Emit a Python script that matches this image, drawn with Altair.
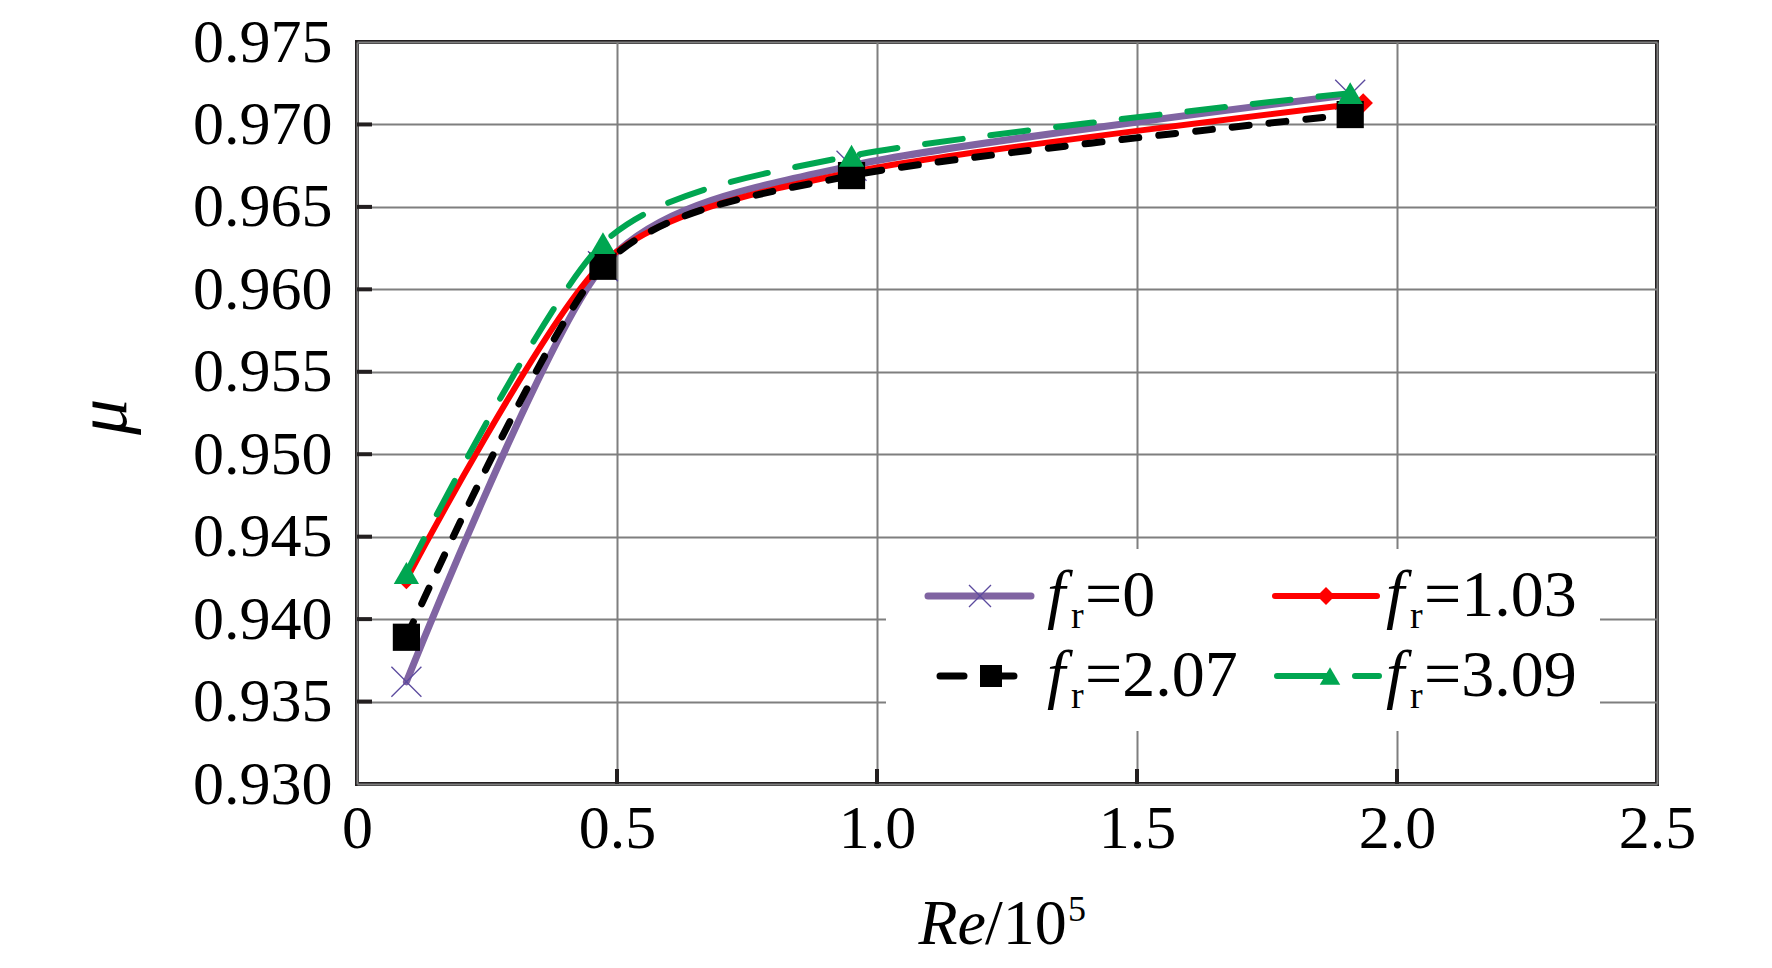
import pandas as pd
import altair as alt

# Re/10^5 at the four measured points (red's last point sits a bit right)
re_x = [0.095, 0.473, 0.951, 1.91]
re_x_red = [0.095, 0.473, 0.951, 1.935]

mu_f0 = [0.9362, 0.9614, 0.9675, 0.9718]
mu_f103 = [0.9424, 0.9616, 0.9671, 0.9713]
mu_f207 = [0.9389, 0.9614, 0.9669, 0.9706]
mu_f309 = [0.9428, 0.9628, 0.9681, 0.9719]

fr_labels = ["0", "1.03", "2.07", "3.09"]
x_ticks = [0, 0.5, 1.0, 1.5, 2.0, 2.5]
y_ticks = [0.930, 0.935, 0.940, 0.945, 0.950, 0.955, 0.960, 0.965, 0.970, 0.975]

W, H = 1300, 742
FONT = "Liberation Serif"
DARK = "#231f20"

xs = alt.Scale(domain=[0, 2.5], nice=False, zero=False)
ys = alt.Scale(domain=[0.930, 0.975], nice=False, zero=False)
x_axis = alt.Axis(values=x_ticks, title=None, labelFlush=False,
                  labelExpr="datum.value == 0 ? '0' : format(datum.value, '.1f')")
y_axis = alt.Axis(values=y_ticks, format=".3f", title=None, labelFlush=False)

xs_list = [re_x, re_x_red, re_x, re_x]
mus = [mu_f0, mu_f103, mu_f207, mu_f309]

# line / marker styles per series
styles = [
    dict(color="#8064a2", width=7, dash=None, shape="M-1,-1L1,1M-1,1L1,-1",
         size=900, filled=False, mcolor="#5b4a9e", lsize=484),
    dict(color="#ff0000", width=6, dash=None, shape="diamond",
         size=380, filled=True, mcolor="#ff0000", lsize=320),
    dict(color="#000000", width=7, dash=[17, 20], shape="square",
         size=740, filled=True, mcolor="#000000", lsize=484),
    dict(color="#00a651", width=6, dash=[38, 28], shape="triangle-up",
         size=640, filled=True, mcolor="#00a651", lsize=420),
]

layers = []

# inside ticks on the left and bottom frame
tick_y = alt.Chart(pd.DataFrame({"v": y_ticks[1:-1]})).mark_rule(
    color=DARK, strokeWidth=4).encode(
    y=alt.Y("v:Q", scale=ys, axis=y_axis),
    x=alt.value(0), x2=alt.value(15))
tick_x = alt.Chart(pd.DataFrame({"v": x_ticks[1:-1]})).mark_rule(
    color=DARK, strokeWidth=4).encode(
    x=alt.X("v:Q", scale=xs, axis=x_axis),
    y=alt.value(H - 15), y2=alt.value(H))
layers += [tick_y, tick_x]

for i in range(4):
    st = styles[i]
    df = pd.DataFrame({"re": xs_list[i], "mu": mus[i]})
    line_kw = dict(color=st["color"], strokeWidth=st["width"],
                   interpolate="cardinal", tension=0.25,
                   strokeCap="round", strokeJoin="round")
    if st["dash"]:
        line_kw["strokeDash"] = st["dash"]
    base = alt.Chart(df).encode(
        x=alt.X("re:Q", scale=xs, axis=x_axis),
        y=alt.Y("mu:Q", scale=ys, axis=y_axis))
    layers.append(base.mark_line(**line_kw))
    if st["filled"]:
        pt = base.mark_point(shape=st["shape"], size=st["size"], filled=True,
                             color=st["mcolor"], opacity=1)
    else:
        pt = base.mark_point(shape=st["shape"], size=st["size"], filled=False,
                             stroke=st["mcolor"], strokeWidth=1.3, opacity=1)
    layers.append(pt)

one = pd.DataFrame({"k": [0]})

# legend box (white, hides the grid behind it)
layers.append(alt.Chart(one).mark_rect(color="white").encode(
    x=alt.value(529), x2=alt.value(1243), y=alt.value(507), y2=alt.value(689)))

# legend samples: (x start, x end, marker x, row y, text x)
leg_pos = [(571, 674, 623, 554, 690), (918, 1020, 969, 554, 1029),
           (583, 662, 634, 634, 690), (920, 1022, 973, 634, 1029)]
for i in range(4):
    st = styles[i]
    x0, x1, mx, ry, tx = leg_pos[i]
    rule_kw = dict(color=st["color"], strokeWidth=st["width"], strokeCap="round")
    if st["dash"]:
        rule_kw["strokeDash"] = [24, 26] if i == 2 else [52, 26]
    layers.append(alt.Chart(one).mark_rule(**rule_kw).encode(
        x=alt.value(x0), x2=alt.value(x1), y=alt.value(ry)))
    if st["filled"]:
        m = alt.Chart(one).mark_point(shape=st["shape"], size=st["lsize"],
                                      filled=True, color=st["mcolor"], opacity=1)
    else:
        m = alt.Chart(one).mark_point(shape=st["shape"], size=st["lsize"],
                                      filled=False, stroke=st["mcolor"],
                                      strokeWidth=1.3, opacity=1)
    layers.append(m.encode(x=alt.value(mx), y=alt.value(ry)))
    base_y = ry + 20
    layers.append(alt.Chart(one).mark_text(
        text="f", font=FONT, fontSize=66, fontStyle="italic", align="left",
        baseline="alphabetic").encode(x=alt.value(tx), y=alt.value(base_y)))
    layers.append(alt.Chart(one).mark_text(
        text="r", font=FONT, fontSize=38, align="left",
        baseline="alphabetic").encode(x=alt.value(tx + 24), y=alt.value(base_y + 12)))
    layers.append(alt.Chart(one).mark_text(
        text="=" + fr_labels[i], font=FONT, fontSize=66, align="left",
        baseline="alphabetic").encode(x=alt.value(tx + 38), y=alt.value(base_y)))

# axis titles as text so the italic parts can be mixed
layers.append(alt.Chart(one).mark_text(
    text="Re", font=FONT, fontSize=64, fontStyle="italic", align="right",
    baseline="alphabetic").encode(x=alt.value(629), y=alt.value(902)))
layers.append(alt.Chart(one).mark_text(
    text="/10", font=FONT, fontSize=64, align="left",
    baseline="alphabetic").encode(x=alt.value(628), y=alt.value(902)))
layers.append(alt.Chart(one).mark_text(
    text="5", font=FONT, fontSize=36, align="left",
    baseline="alphabetic").encode(x=alt.value(711), y=alt.value(879)))
layers.append(alt.Chart(one).mark_text(
    text="μ", font=FONT, fontSize=72, fontStyle="italic", align="center",
    baseline="middle", angle=270).encode(x=alt.value(-253), y=alt.value(375)))

chart = alt.layer(*layers).properties(
    width=W, height=H, autosize="none",
    padding={"left": 349, "top": 34, "right": 100, "bottom": 176},
).configure_view(
    stroke=DARK, strokeWidth=4
).configure_axis(
    ticks=False, domain=False, grid=True, gridColor="#7f7f7f", gridWidth=2,
    labelFont=FONT, labelFontSize=62, labelColor="#000000"
).configure_axisY(
    labelPadding=25
).configure_axisX(
    labelPadding=14
)

chart.save("out.html", embed_options={"renderer": "svg", "actions": False})
